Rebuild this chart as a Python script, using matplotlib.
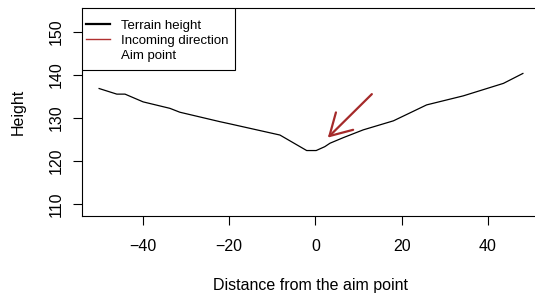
import matplotlib
matplotlib.use("Agg")
import matplotlib.pyplot as plt
from matplotlib.lines import Line2D
from matplotlib.patches import Rectangle

# terrain profile
distance = [-50.1, -46.0, -44.1, -39.9, -33.7, -31.4, -22.1, -19.8, -8.2, -2.0,
            0.2, 2.2, 3.4, 6.5, 11.1, 18.1, 25.8, 34.3, 43.6, 48.1]
height = [136.8, 135.5, 135.5, 133.7, 132.2, 131.3, 129.1, 128.6, 126.0, 122.4,
          122.4, 123.3, 124.1, 125.4, 127.2, 129.3, 133.0, 135.1, 138.0, 140.3]

# incoming direction arrow (tail -> head)
arrow_tail = (13.1, 135.5)
arrow_head = (2.9, 125.4)

legend_labels = ["Terrain height", "Incoming direction", "Aim point"]

plt.rcParams["font.family"] = ["Liberation Sans", "DejaVu Sans"]
plt.rcParams["font.size"] = 11.5

fig = plt.figure(figsize=(5.35, 2.95), dpi=100)
ax = fig.add_axes([0.1538, 0.2678, 1.008 - 0.1538, 0.9729 - 0.2678])

ax.plot(distance, height, color="black", lw=0.9)
ax.annotate("", xy=arrow_head, xytext=arrow_tail,
            arrowprops=dict(arrowstyle="->,head_length=1.53,head_width=0.88",
                            color="#A52A2A", lw=1.6, shrinkA=0, shrinkB=0,
                            mutation_scale=10))

ax.set_xlim(-54, 51.9)
ax.set_ylim(107.2, 155.5)
ax.set_xticks([-40, -20, 0, 20, 40])
ax.set_yticks([110, 120, 130, 140, 150])
ax.set_xticklabels(["\u221240", "\u221220", "0", "20", "40"])
ax.tick_params(direction="out", length=6.7, width=0.8, color="black")
ax.tick_params(axis="x", pad=10)
ax.tick_params(axis="y", pad=6.5)
for lab in ax.get_yticklabels():
    lab.set_rotation(90)
    lab.set_va("center")

for s in ax.spines.values():
    s.set_linewidth(0.8)
    s.set_color("black")

ax.set_xlabel("Distance from the aim point", labelpad=17.4)
ax.set_ylabel("Height", labelpad=16.5)

# legend box (R style: square frame flush with the top-left corner)
ax.add_patch(Rectangle((0, 0.702), 0.334, 0.298, transform=ax.transAxes,
                       facecolor="white", edgecolor="black", lw=0.8, zorder=4))
handles = [Line2D([], [], color="black", lw=1.6),
           Line2D([], [], color="#B03030", lw=1.0),
           Line2D([], [], linestyle="none")]
leg = ax.legend(handles, legend_labels, loc="upper left",
                bbox_to_anchor=(0.0081, 0.943), borderaxespad=0, borderpad=0,
                frameon=False, fontsize=9.5, handlelength=1.8,
                handletextpad=0.83, labelspacing=0.2)
leg.set_zorder(5)

fig.savefig("out.png", dpi=100)
